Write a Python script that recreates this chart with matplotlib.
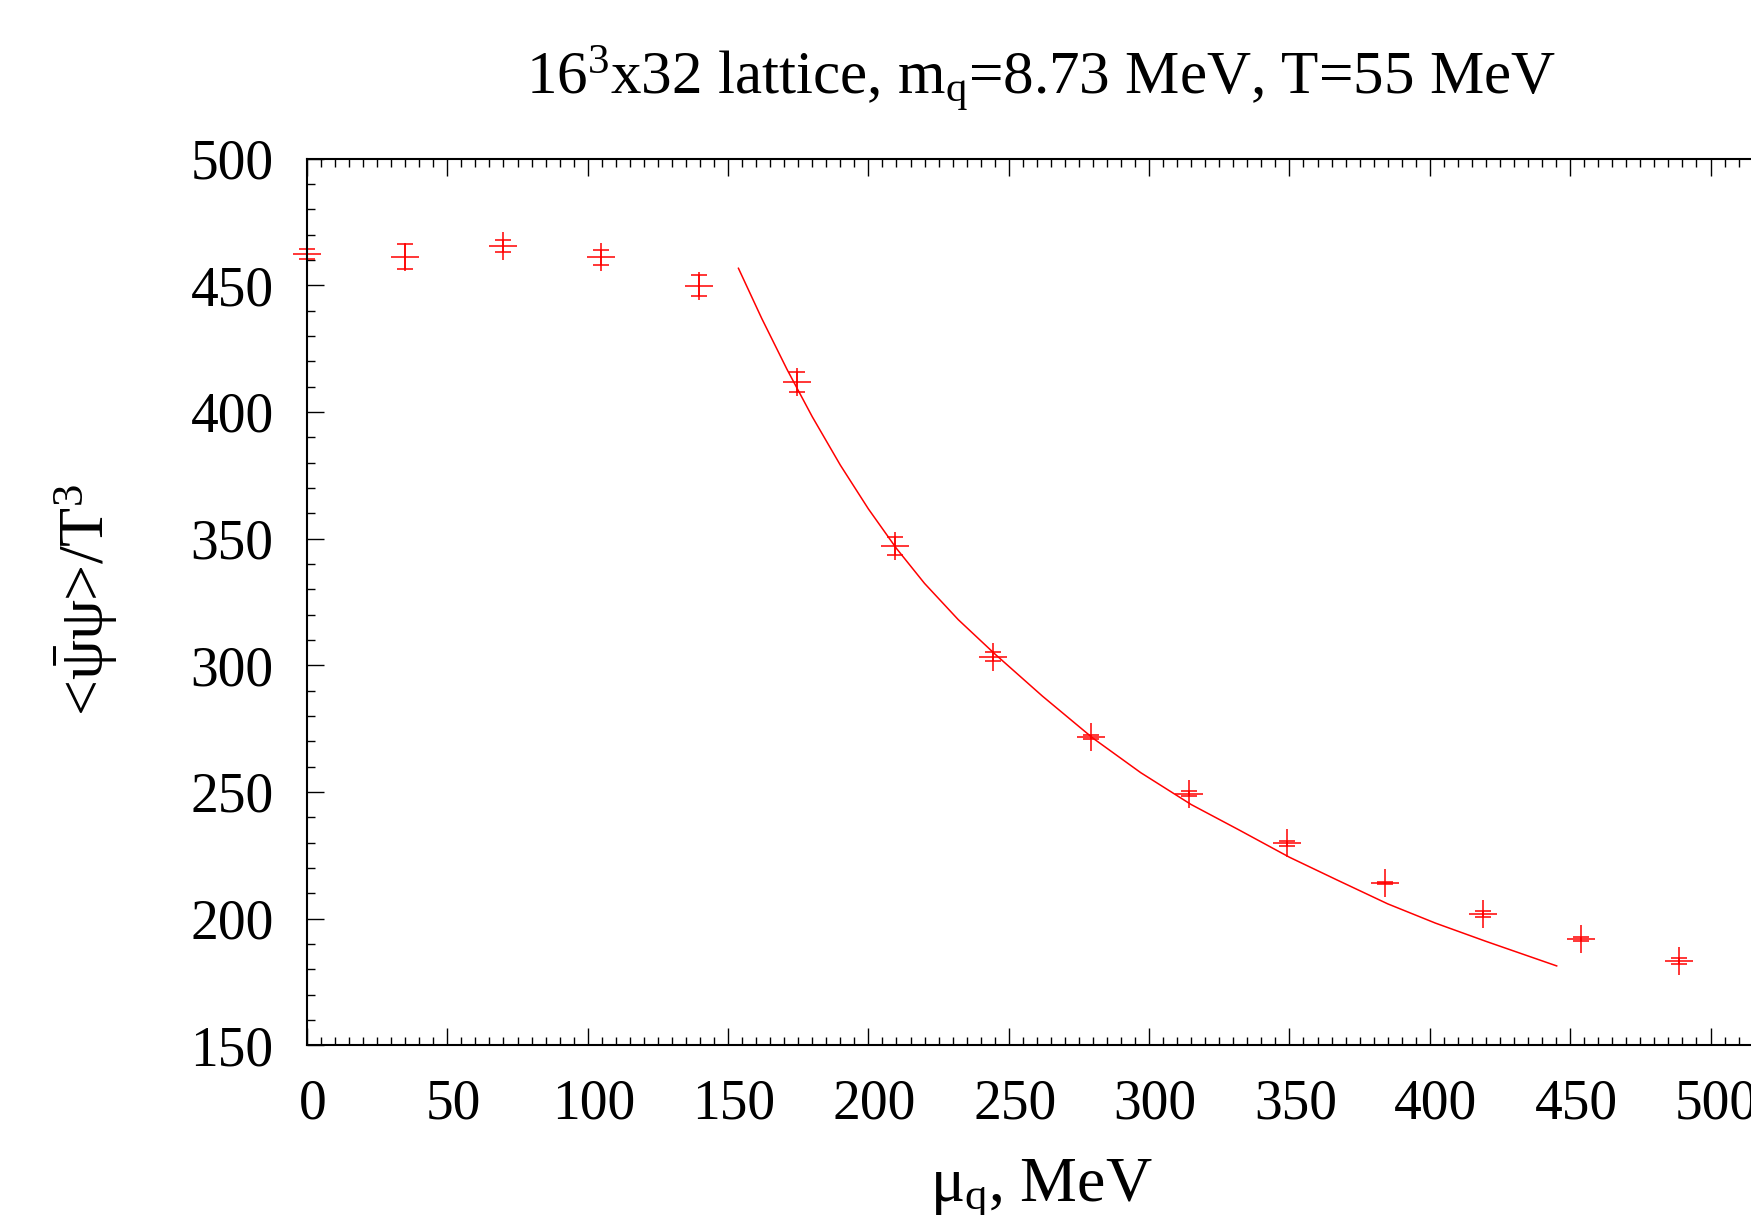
import matplotlib
matplotlib.use("Agg")
import matplotlib.pyplot as plt
from matplotlib.ticker import MultipleLocator
from matplotlib.transforms import ScaledTranslation

plt.rcParams['font.family'] = ['Liberation Serif', 'DejaVu Serif']
plt.rcParams['mathtext.fontset'] = 'custom'
plt.rcParams['mathtext.rm'] = 'Liberation Serif'
plt.rcParams['mathtext.it'] = 'Liberation Serif'
plt.rcParams['mathtext.bf'] = 'Liberation Serif:bold'

# data
mu_q = [0.0, 34.9, 69.8, 104.7, 139.6, 174.5, 209.4, 244.3, 279.2, 314.1,
        349.0, 383.9, 418.8, 453.7, 488.6]
condensate = [462.3, 461.3, 465.5, 461.0, 449.8, 411.9, 347.2, 303.4, 271.7,
              249.3, 229.7, 214.1, 201.8, 191.9, 183.3]
cond_err = [2.1, 4.9, 2.2, 3.0, 4.1, 4.0, 3.6, 1.8, 0.8, 1.0, 1.0, 0.5, 1.0,
            0.9, 1.3]

# fit curve
fit_x = [153.7, 162.0, 171.0, 180.0, 190.0, 200.0, 210.0, 220.0, 232.0, 245.0,
         262.0, 280.0, 297.0, 315.0, 332.0, 350.0, 367.0, 385.0, 402.0, 420.0,
         445.2]
fit_y = [456.7, 436.9, 416.8, 398.1, 379.0, 361.7, 346.1, 332.3, 318.0, 304.5,
         287.8, 271.2, 257.6, 245.0, 235.0, 224.2, 215.2, 205.8, 198.2, 191.0,
         181.3]

x_ticks = [0, 50, 100, 150, 200, 250, 300, 350, 400, 450, 500, 550]
y_ticks = [150, 200, 250, 300, 350, 400, 450, 500]

W, H = 1751, 1215
fig = plt.figure(figsize=(W / 100, H / 100), dpi=100)

x0_px, x_per = 307.0, 2.807
xmax = 550
left = x0_px / W
width = xmax * x_per / W
bottom = (H - 1045.2) / H
top = (H - 158.6) / H
ax = fig.add_axes([left, bottom, width, top - bottom])

ax.plot(fit_x, fit_y, color='#ff0000', lw=1.1, solid_joinstyle='round')
ax.errorbar(mu_q, condensate, yerr=cond_err, fmt='+', color='#ff0000',
            ms=20, mew=1.1, elinewidth=1.1, capsize=6, capthick=1.1,
            clip_on=False)

ax.set_xlim(0, xmax)
ax.set_ylim(150, 500)
ax.set_xticks(x_ticks)
ax.set_yticks(y_ticks)
ax.xaxis.set_minor_locator(MultipleLocator(5))
ax.yaxis.set_minor_locator(MultipleLocator(10))
ax.tick_params(which='both', direction='in', top=True, right=True,
               width=1.0, colors='black')
ax.tick_params(which='major', length=12)
ax.tick_params(which='minor', length=5.5)
ax.tick_params(axis='x', which='major', labelsize=40, pad=24)
ax.tick_params(axis='y', which='major', labelsize=40, pad=24)
for s in ax.spines.values():
    s.set_linewidth(1.5)

shift = ScaledTranslation(6 / 100, 0, fig.dpi_scale_trans)
for lab in ax.get_xticklabels():
    lab.set_transform(lab.get_transform() + shift)

fig.text(1041 / W, (H - 94) / H,
         r"16$^{3}$x32 lattice, m$_{\mathrm{q}}$=8.73 MeV, T=55 MeV",
         ha='center', va='baseline', fontsize=44)
fig.text(1041 / W, (H - 1200) / H, r"$\mu_{\mathrm{q}}$, MeV",
         ha='center', va='baseline', fontsize=46)
fig.text(86 / W, (H - 600) / H, r"<$\bar{\psi}\psi$>/T$^{3}$",
         ha='center', va='center', rotation=90, fontsize=46)

fig.savefig("out.png", dpi=100)
